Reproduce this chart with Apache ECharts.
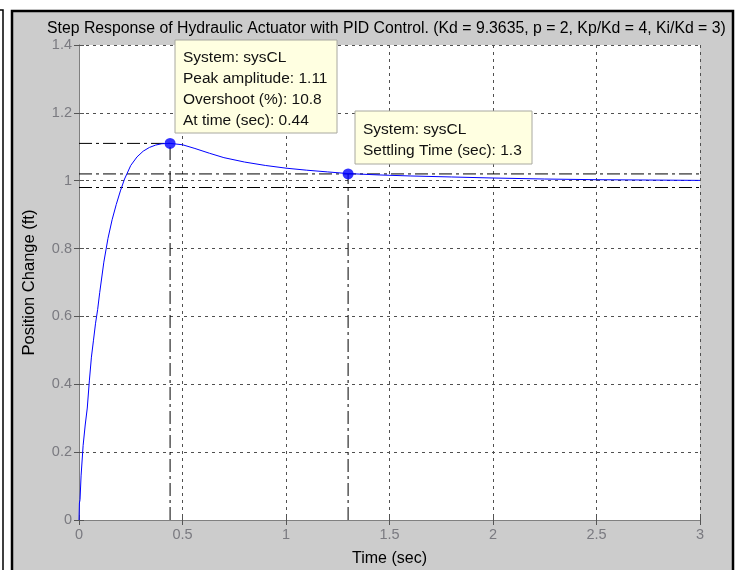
<!DOCTYPE html>
<html>
<head>
<meta charset="utf-8">
<script src="https://cdn.jsdelivr.net/npm/echarts@6/dist/echarts.min.js"></script>
<style>
html,body{margin:0;padding:0;background:#ffffff;}
#c{width:739px;height:570px;}
</style>
</head>
<body>
<div id="c"></div>
<script>
// ---- data ----
var timeSec = [0, 0.002, 0.005, 0.01, 0.02, 0.03, 0.04, 0.05, 0.06, 0.07, 0.08, 0.09, 0.10, 0.12, 0.14, 0.16, 0.18, 0.20, 0.22, 0.25, 0.28, 0.31, 0.34, 0.37, 0.40, 0.44, 0.50, 0.56, 0.63, 0.70, 0.80, 0.90, 1.0, 1.1, 1.2, 1.3, 1.45, 1.6, 1.8, 2.0, 2.25, 2.5, 2.75, 3.0];
var position = [0, 0.05, 0.06, 0.13, 0.22, 0.28, 0.33, 0.41, 0.48, 0.53, 0.58, 0.62, 0.67, 0.76, 0.83, 0.885, 0.93, 0.97, 1.005, 1.045, 1.07, 1.087, 1.098, 1.105, 1.109, 1.11, 1.106, 1.095, 1.081, 1.068, 1.055, 1.045, 1.037, 1.031, 1.026, 1.021, 1.017, 1.014, 1.011, 1.008, 1.005, 1.003, 1.002, 1.001];
var peakTime = 0.44, peakAmp = 1.11, overshoot = 10.8;
var settleTime = 1.3, settleAmp = 1.02;
var settleBandHi = 1.02, settleBandLo = 0.98;
var xTicks = [0, 0.5, 1, 1.5, 2, 2.5, 3];
var yTicks = [0, 0.2, 0.4, 0.6, 0.8, 1, 1.2, 1.4];
var titleText = 'Step Response of Hydraulic Actuator with PID Control. (Kd = 9.3635, p = 2, Kp/Kd = 4, Ki/Kd = 3)';
var peakTip = ['System: sysCL', 'Peak amplitude: ' + peakAmp, 'Overshoot (%): ' + overshoot, 'At time (sec): ' + peakTime];
var settleTip = ['System: sysCL', 'Settling Time (sec): ' + settleTime];

var FONT = '"Liberation Sans", Arial, sans-serif';
var curve = timeSec.map(function (t, i) { return [t, position[i]]; });
var dashDot = [13, 4, 3, 4];
var refStyle = { color: '#000', width: 1, type: dashDot };

function refLine(data) {
  return { type: 'line', data: data, symbol: 'none', silent: true, z: 2, lineStyle: refStyle, animation: false };
}

var chart = echarts.init(document.getElementById('c'), null, { renderer: 'canvas' });

var axisGray = '#808080';
var labelGray = '#7a7a80';

var option = {
  animation: false,
  backgroundColor: '#ffffff',
  textStyle: { fontFamily: FONT },
  grid: { left: 79, top: 45, width: 621, height: 475, show: true, backgroundColor: '#ffffff', borderWidth: 0,
    containLabel: false, outerBoundsMode: 'none' },
  xAxis: [{
    type: 'value', min: xTicks[0], max: xTicks[xTicks.length - 1], interval: 0.5,
    name: 'Time (sec)', nameLocation: 'middle', nameGap: 31,
    nameTextStyle: { color: '#000', fontSize: 16, fontFamily: FONT },
    axisLine: { show: true, lineStyle: { color: axisGray, width: 1 } },
    axisTick: { show: true, inside: true, length: 5, lineStyle: { color: '#555' } },
    axisLabel: { color: labelGray, fontSize: 14.5, margin: 7, fontFamily: FONT,
      formatter: function (v) { var i = xTicks.indexOf(+v.toFixed(3)); return i >= 0 ? String(xTicks[i]) : ''; } },
    splitLine: { show: true, lineStyle: { color: '#505050', type: [3, 4], width: 1 } }
  }, {
    type: 'value', position: 'top', min: 0, max: 3, interval: 0.5,
    axisLine: { show: true, lineStyle: { color: axisGray, width: 1 } },
    axisTick: { show: true, inside: true, length: 5, lineStyle: { color: '#555' } },
    axisLabel: { show: false }, splitLine: { show: false }
  }],
  yAxis: [{
    type: 'value', min: yTicks[0], max: yTicks[yTicks.length - 1], interval: 0.2,
    name: 'Position Change (ft)', nameLocation: 'middle', nameGap: 41,
    nameTextStyle: { color: '#000', fontSize: 16.5, fontFamily: FONT },
    axisLine: { show: true, lineStyle: { color: axisGray, width: 1 } },
    axisTick: { show: true, inside: true, length: 5, lineStyle: { color: '#555' } },
    axisLabel: { color: labelGray, fontSize: 14.5, margin: 7, fontFamily: FONT,
      formatter: function (v) { var r = +v.toFixed(3); var i = yTicks.indexOf(r); return i >= 0 ? String(yTicks[i]) : ''; } },
    splitLine: { show: true, lineStyle: { color: '#505050', type: [3, 4], width: 1 } }
  }, {
    type: 'value', position: 'right', min: 0, max: 1.4, interval: 0.2,
    axisLine: { show: true, lineStyle: { color: axisGray, width: 1 } },
    axisTick: { show: true, inside: true, length: 5, lineStyle: { color: '#555' } },
    axisLabel: { show: false }, splitLine: { show: false }
  }],
  series: [
    refLine([[xTicks[0], settleBandHi], [xTicks[xTicks.length - 1], settleBandHi]]),
    refLine([[xTicks[0], settleBandLo], [xTicks[xTicks.length - 1], settleBandLo]]),
    refLine([[xTicks[0], peakAmp], [peakTime, peakAmp]]),
    refLine([[peakTime, 0], [peakTime, peakAmp]]),
    refLine([[settleTime, 0], [settleTime, settleAmp]]),
    {
      type: 'line', name: 'sysCL', data: curve, symbol: 'none', z: 3,
      lineStyle: { color: '#0000ff', width: 1 }, animation: false
    },
    {
      type: 'scatter', data: [[peakTime, peakAmp], [settleTime, settleAmp]], z: 4,
      symbol: 'circle', symbolSize: 11, itemStyle: { color: '#0000ff' }
    }
  ],
  graphic: [
    // figure background & frame
    { type: 'rect', z: -10, silent: true, shape: { x: 12, y: 11, width: 721, height: 570 },
      style: { fill: '#cccccc', stroke: '#000', lineWidth: 2.5 } },
    { type: 'polyline', z: -10, silent: true, shape: { points: [[0, 10], [3, 10], [3, 570]] },
      style: { stroke: '#000', lineWidth: 1.5, fill: null } },
    // title
    { type: 'text', z: 10, left: 47, top: 20.5, style: { text: titleText, font: '15.8px ' + FONT, fill: '#000' } },
    // data tips
    { type: 'rect', z: 100, shape: { x: 175, y: 40, width: 162, height: 93 }, style: { fill: '#ffffe1', stroke: '#a8a8a0', lineWidth: 1 } },
    { type: 'text', z: 101, x: 183, y: 47, style: { text: peakTip.join('\n'), font: '15.5px ' + FONT, lineHeight: 21, fill: '#111' } },
    { type: 'rect', z: 100, shape: { x: 355, y: 111, width: 177, height: 53 }, style: { fill: '#ffffe1', stroke: '#a8a8a0', lineWidth: 1 } },
    { type: 'text', z: 101, x: 363, y: 119, style: { text: settleTip.join('\n'), font: '15.5px ' + FONT, lineHeight: 21, fill: '#111' } }
  ]
};
chart.setOption(option);
</script>
</body>
</html>
